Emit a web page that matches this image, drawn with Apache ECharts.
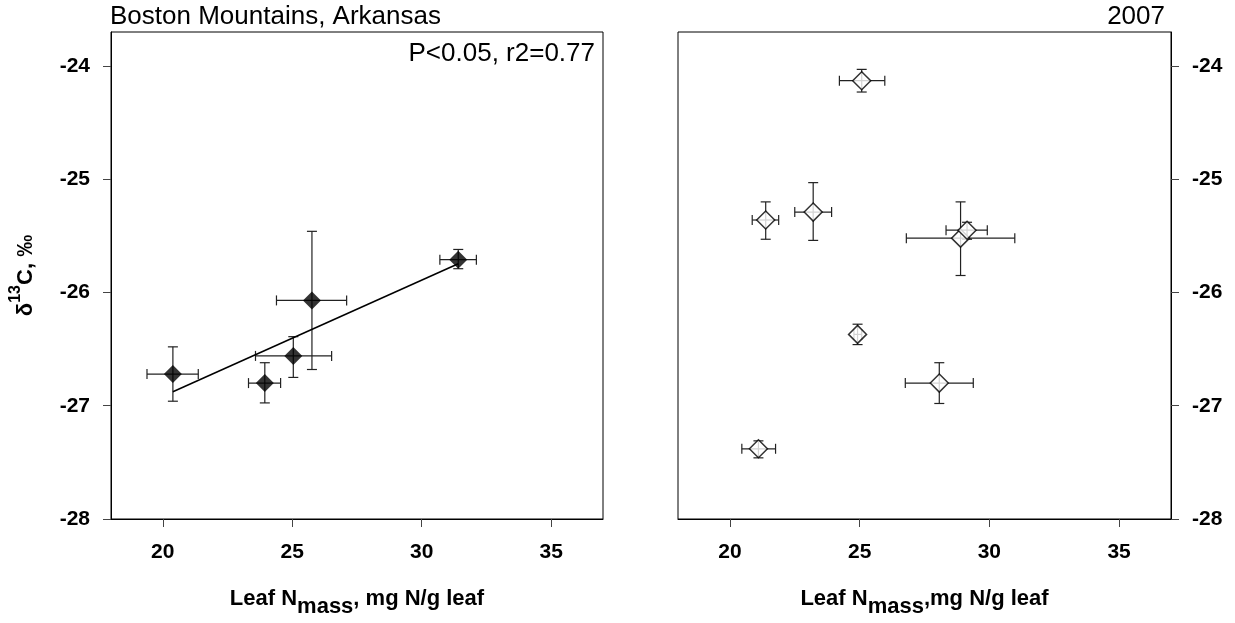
<!DOCTYPE html>
<html>
<head>
<meta charset="utf-8">
<script src="https://cdn.jsdelivr.net/npm/echarts@6/dist/echarts.min.js"></script>
<style>
html,body{margin:0;padding:0;background:#fff;}
#chart{width:1235px;height:623px;}
</style>
</head>
<body>
<div id="chart"></div>
<script>
// ---- tick labels ----
const xTicks = [20, 25, 30, 35];
const yTicks = [-28, -27, -26, -25, -24];

// ---- left panel (filled diamonds) ----
const leftX   = [20.39, 23.94, 25.04, 25.76, 31.41];
const leftY   = [-26.72, -26.80, -26.56, -26.07, -25.71];
const leftXLo = [19.39, 23.31, 23.58, 24.39, 30.70];
const leftXHi = [21.37, 24.55, 26.52, 27.10, 32.11];
const leftYLo = [-26.96, -26.975, -26.75, -26.68, -25.79];
const leftYHi = [-26.48, -26.62, -26.39, -25.46, -25.62];

// ---- right panel (open diamonds) ----
const rightX   = [25.08, 21.38, 23.21, 28.89, 29.14, 24.92, 28.07, 21.10];
const rightY   = [-24.13, -25.36, -25.29, -25.52, -25.45, -26.37, -26.80, -27.38];
const rightXLo = [24.22, 20.86, 22.50, 26.80, 28.33, 24.78, 26.76, 20.46];
const rightXHi = [25.97, 21.88, 23.92, 30.98, 29.92, 25.08, 29.38, 21.76];
const rightYLo = [-24.23, -25.53, -25.54, -25.85, -25.53, -26.46, -26.98, -27.46];
const rightYHi = [-24.03, -25.20, -25.03, -25.20, -25.38, -26.28, -26.62, -27.31];

// ---- texts ----
const siteTitle = 'Boston Mountains, Arkansas';
const yearTitle = '2007';
const statText = 'P<0.05, r2=0.77';

const FONT = '"Liberation Sans", Arial, sans-serif';

function zipErr(x, y, xlo, xhi, ylo, yhi) {
  return x.map((v, i) => [v, y[i], xlo[i], xhi[i], ylo[i], yhi[i]]);
}

// least squares regression through left panel points
function regression(xs, ys) {
  const n = xs.length;
  const mx = xs.reduce((a, b) => a + b, 0) / n;
  const my = ys.reduce((a, b) => a + b, 0) / n;
  let sxy = 0, sxx = 0;
  for (let i = 0; i < n; i++) { sxy += (xs[i] - mx) * (ys[i] - my); sxx += (xs[i] - mx) ** 2; }
  const b = sxy / sxx, a = my - b * mx;
  const x0 = Math.min(...xs), x1 = Math.max(...xs);
  return [[x0, a + b * x0], [x1, a + b * x1]];
}

const CAP = 5;
const BAR_COLOR = '#222';
function renderErr(params, api) {
  const x = api.value(0), y = api.value(1);
  const c = api.coord([x, y]);
  const l = api.coord([api.value(2), y]);
  const r = api.coord([api.value(3), y]);
  const b = api.coord([x, api.value(4)]);
  const t = api.coord([x, api.value(5)]);
  const st = { stroke: BAR_COLOR, lineWidth: 1.2 };
  const line = (x1, y1, x2, y2) => ({ type: 'line', shape: { x1, y1, x2, y2 }, style: st });
  return {
    type: 'group',
    children: [
      line(l[0], c[1], r[0], c[1]),
      line(l[0], c[1] - CAP, l[0], c[1] + CAP),
      line(r[0], c[1] - CAP, r[0], c[1] + CAP),
      line(c[0], t[1], c[0], b[1]),
      line(c[0] - CAP, t[1], c[0] + CAP, t[1]),
      line(c[0] - CAP, b[1], c[0] + CAP, b[1])
    ]
  };
}

const labelStyle = { fontFamily: FONT, fontWeight: 'bold', fontSize: 21, color: '#000' };

function xAxisDef(gridIndex, nameRich) {
  return {
    type: 'value', gridIndex, min: 18, max: 37,
    splitLine: { show: false },
    axisLine: { show: true, onZero: false, lineStyle: { color: '#000', width: 1 } },
    axisTick: { show: true, length: 8, customValues: xTicks, lineStyle: { color: '#444' } },
    axisLabel: Object.assign({ customValues: xTicks, margin: 23 }, labelStyle),
    name: nameRich,
    nameLocation: 'middle', nameGap: 69,
    nameTextStyle: {
      fontFamily: FONT, fontWeight: 'bold', fontSize: 22, color: '#000',
      rich: {
        m: { fontFamily: FONT, fontWeight: 'bold', fontSize: 22, color: '#000', lineHeight: 22, verticalAlign: 'top' },
        s: { fontFamily: FONT, fontWeight: 'bold', fontSize: 22, color: '#000', lineHeight: 30, verticalAlign: 'bottom' }
      }
    }
  };
}

function yAxisDef(gridIndex, position, withName) {
  const ax = {
    type: 'value', gridIndex, min: -28, max: -23.7, position,
    splitLine: { show: false },
    axisLine: { show: true, onZero: false, lineStyle: { color: '#000', width: 1 } },
    axisTick: { show: true, length: 8, customValues: yTicks, lineStyle: { color: '#444' } },
    axisLabel: Object.assign({ customValues: yTicks, margin: 21 }, labelStyle)
  };
  if (withName) {
    ax.name = '{m|δ}{sup|13}{m|C, ‰}';
    ax.nameLocation = 'middle';
    ax.nameGap = 74;
    ax.nameTextStyle = {
      rich: {
        m: { fontFamily: FONT, fontWeight: 'bold', fontSize: 22, color: '#000', lineHeight: 29, verticalAlign: 'bottom' },
        sup: { fontFamily: FONT, fontWeight: 'bold', fontSize: 16, color: '#000', lineHeight: 29, verticalAlign: 'top' }
      }
    };
  }
  return ax;
}

const titleStyle = { fontFamily: FONT, fontWeight: 'normal', fontSize: 26, color: '#000' };

const chart = echarts.init(document.getElementById('chart'), null, { renderer: 'canvas' });
const option = {
  backgroundColor: '#fff',
  animation: false,
  title: [
    { text: siteTitle, left: 110, top: 4, padding: 0, textStyle: titleStyle },
    { text: yearTitle, right: 70, top: 4, padding: 0, textStyle: titleStyle },
    { text: statText, right: 640, top: 41, padding: 0, textStyle: titleStyle }
  ],
  grid: [
    { left: 111, top: 32, width: 492, height: 494, show: true, borderColor: '#000', borderWidth: 1, backgroundColor: 'transparent' },
    { left: 678, top: 32, width: 493, height: 494, show: true, borderColor: '#000', borderWidth: 1, backgroundColor: 'transparent' }
  ],
  xAxis: [
    xAxisDef(0, '{m|Leaf N}{s|mass}{m|, mg N/g leaf}'),
    xAxisDef(1, '{m|Leaf N}{s|mass}{m|,mg N/g leaf}')
  ],
  yAxis: [
    yAxisDef(0, 'left', true),
    yAxisDef(1, 'right', false)
  ],
  series: [
    {
      type: 'custom', xAxisIndex: 0, yAxisIndex: 0, z: 2,
      renderItem: renderErr,
      data: zipErr(leftX, leftY, leftXLo, leftXHi, leftYLo, leftYHi)
    },
    {
      type: 'line', xAxisIndex: 0, yAxisIndex: 0, z: 3,
      data: regression(leftX, leftY), symbol: 'none',
      lineStyle: { color: '#000', width: 1.5 }
    },
    {
      type: 'scatter', xAxisIndex: 0, yAxisIndex: 0, z: 4,
      symbol: 'diamond', symbolSize: 18,
      itemStyle: { color: '#000' },
      data: leftX.map((v, i) => [v, leftY[i]])
    },
    {
      type: 'custom', xAxisIndex: 1, yAxisIndex: 1, z: 2,
      renderItem: renderErr,
      data: zipErr(rightX, rightY, rightXLo, rightXHi, rightYLo, rightYHi)
    },
    {
      type: 'scatter', xAxisIndex: 1, yAxisIndex: 1, z: 4,
      symbol: 'diamond', symbolSize: 18,
      itemStyle: { color: '#fff', borderColor: '#000', borderWidth: 1.5 },
      data: rightX.map((v, i) => [v, rightY[i]])
    }
  ]
};
chart.setOption(option);
</script>
</body>
</html>
